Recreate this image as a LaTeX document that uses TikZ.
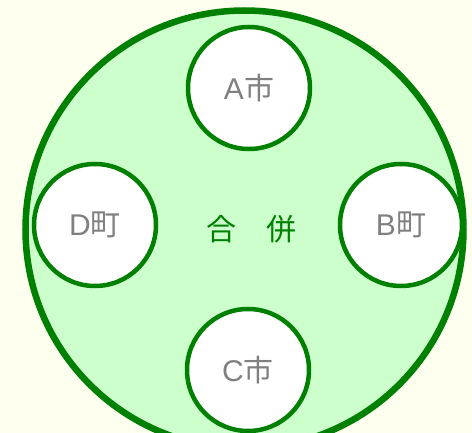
\documentclass[tikz,border=0pt]{standalone}
\usepackage{fontspec}
\setmainfont{Liberation Sans}
\newfontfamily\jpfont{Noto Sans CJK JP}
\definecolor{bgivory}{HTML}{FFFFF0}
\definecolor{dgreen}{HTML}{008000}
\definecolor{lgreen}{HTML}{CCFFCC}
\definecolor{txtgray}{HTML}{808080}
\begin{document}
\begin{tikzpicture}[x=1pt,y=-1pt,
  bigring/.style={circle,draw=dgreen,fill=lgreen,line width=6.5pt,minimum size=438pt,inner sep=0pt},
  town/.style={circle,draw=dgreen,fill=white,line width=4.5pt,minimum size=122pt,inner sep=0pt,
    text=txtgray,font=\fontsize{30}{30}\selectfont},
  merge/.style={text=dgreen,font=\fontsize{30}{30}\selectfont\jpfont,inner sep=0pt}]
\fill[bgivory] (0,0) rectangle (472,433);
\useasboundingbox (0,0) rectangle (472,433);
\begin{scope}
\clip (0,0) rectangle (472,433);
\node[bigring] (all) at (244.5,229.5) {};
\end{scope}
\node[town] (A) at (249,88) {A{\jpfont 市}};
\node[town] (B) at (401,225) {B{\jpfont 町}};
\node[town] (C) at (248,370) {C{\jpfont 市}};
\node[town] (D) at (95,225) {D{\jpfont 町}};
\node[merge] (M) at (251.5,229) {合　併};
\end{tikzpicture}
\end{document}
